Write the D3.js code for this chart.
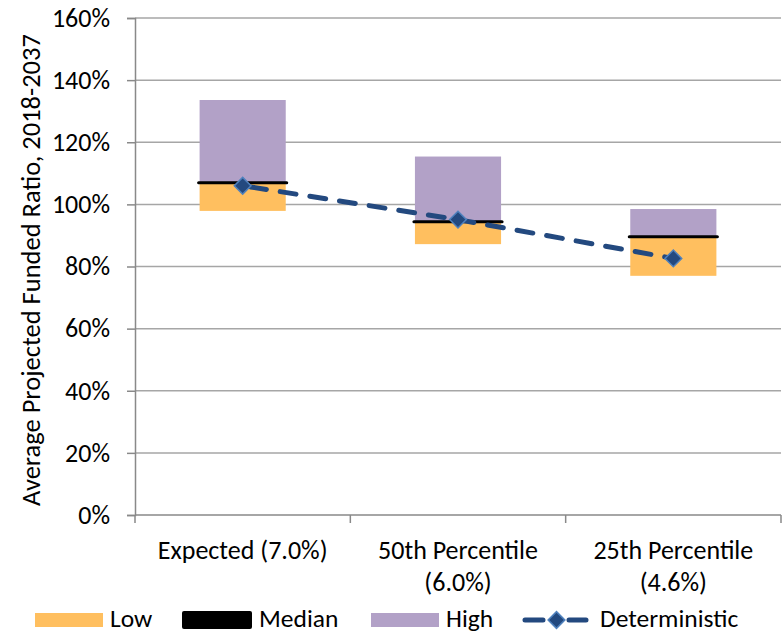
<!DOCTYPE html>
<html>
<head>
<meta charset="utf-8">
<script src="https://cdn.jsdelivr.net/npm/d3@7/dist/d3.min.js"></script>
<style>
  html, body { margin: 0; padding: 0; background: #fff; }
  svg { display: block; font-family: Carlito, Calibri, Lato, sans-serif; }
</style>
</head>
<body>
<svg id="chart" width="782" height="634"></svg>
<script>
// Scenario categories (two-line labels)
const categories = ["Expected (7.0%)", "50th Percentile (6.0%)", "25th Percentile (4.6%)"];
const categoryLines = [["Expected (7.0%)"], ["50th Percentile", "(6.0%)"], ["25th Percentile", "(4.6%)"]];

// Average projected funded ratio (%) per scenario
const lowValues = [97.9, 87.2, 77.0];
const medianValues = [107.0, 94.4, 89.6];
const highValues = [133.6, 115.4, 98.5];
const deterministicValues = [106.0, 95.1, 82.6];

const yTicks = [0, 20, 40, 60, 80, 100, 120, 140, 160];

const colors = {
  low: "#FFBF5F",
  median: "#000000",
  high: "#B2A1C7",
  det: "#23497F",
  detEdge: "#4F81BD",
  grid: "#A6A6A6",
  axis: "#898989"
};

const FS = 26;
const W = 782, H = 634;
const margin = { top: 18, right: 1, bottom: 119, left: 135 };
const iw = W - margin.left - margin.right;
const ih = H - margin.top - margin.bottom;

const svg = d3.select("#chart");
const g = svg.append("g").attr("transform", `translate(${margin.left},${margin.top})`);

const x = d3.scaleBand().domain(categories).range([0, iw]).paddingInner(0).paddingOuter(0);
const barW = x.bandwidth() * 0.4;
const cx = c => x(c) + x.bandwidth() / 2;
const y = d3.scaleLinear().domain([0, 160]).range([ih, 0]);

// Horizontal gridlines
g.append("g").selectAll("line").data(yTicks.filter(t => t > 0)).join("line")
  .attr("x1", 0).attr("x2", iw)
  .attr("y1", d => y(d)).attr("y2", d => y(d))
  .attr("stroke", colors.grid).attr("stroke-width", 1.5);

// Y axis
const yAxis = g.append("g").call(d3.axisLeft(y).tickValues(yTicks).tickFormat(d => d + "%").tickSize(8).tickPadding(17));
yAxis.select(".domain").attr("stroke", colors.axis).attr("stroke-width", 1.5);
yAxis.selectAll(".tick line").attr("stroke", colors.axis).attr("stroke-width", 1.5);
yAxis.selectAll(".tick text").attr("font-size", FS).attr("fill", "#000")
  .style("font-family", "Carlito, Calibri, Lato, sans-serif");

// X axis: ticks at band boundaries
const xg = g.append("g").attr("transform", `translate(0,${ih})`);
xg.append("line").attr("x1", 0).attr("x2", iw).attr("y1", 0).attr("y2", 0)
  .attr("stroke", colors.axis).attr("stroke-width", 1.5);
const boundaries = categories.map(c => x(c)).concat([x(categories[categories.length - 1]) + x.bandwidth()]);
xg.selectAll("line.tick").data(boundaries).join("line").attr("class", "tick")
  .attr("x1", d => d).attr("x2", d => d).attr("y1", 0).attr("y2", 8)
  .attr("stroke", colors.axis).attr("stroke-width", 1.5);
const xl = xg.selectAll("text.cat").data(categories).join("text").attr("class", "cat")
  .attr("text-anchor", "middle").attr("font-size", FS).attr("fill", "#000")
  .attr("transform", d => `translate(${cx(d)},44)`);
xl.each(function(d, i) {
  d3.select(this).selectAll("tspan").data(categoryLines[i]).join("tspan")
    .attr("x", 0).attr("dy", (t, j) => j === 0 ? 0 : 32).text(t => t);
});

// Low boxes (low -> median)
g.append("g").selectAll("rect").data(categories).join("rect")
  .attr("x", d => cx(d) - barW / 2).attr("width", barW)
  .attr("y", (d, i) => y(medianValues[i]))
  .attr("height", (d, i) => y(lowValues[i]) - y(medianValues[i]))
  .attr("fill", colors.low);

// High boxes (median -> high)
g.append("g").selectAll("rect").data(categories).join("rect")
  .attr("x", d => cx(d) - barW / 2).attr("width", barW)
  .attr("y", (d, i) => y(highValues[i]))
  .attr("height", (d, i) => y(medianValues[i]) - y(highValues[i]))
  .attr("fill", colors.high);

// Median marks
g.append("g").selectAll("line").data(categories).join("line")
  .attr("x1", d => cx(d) - barW / 2 - 1).attr("x2", d => cx(d) + barW / 2 + 1)
  .attr("y1", (d, i) => y(medianValues[i])).attr("y2", (d, i) => y(medianValues[i]))
  .attr("stroke", colors.median).attr("stroke-width", 3).attr("stroke-linecap", "round");

// Deterministic dashed line with diamond markers
const line = d3.line().x(d => cx(d.c)).y(d => y(d.v));
const detData = categories.map((c, i) => ({ c, v: deterministicValues[i] }));
g.append("path").datum(detData).attr("d", line)
  .attr("fill", "none").attr("stroke", colors.det).attr("stroke-width", 5)
  .attr("stroke-dasharray", "16,14").attr("stroke-dashoffset", -8).attr("stroke-linecap", "round");
g.append("g").selectAll("path").data(detData).join("path")
  .attr("transform", d => `translate(${cx(d.c)},${y(d.v)}) rotate(45)`)
  .attr("d", d3.symbol().type(d3.symbolSquare).size(140))
  .attr("fill", colors.det).attr("stroke", colors.detEdge).attr("stroke-width", 1.5);

// Y axis title
svg.append("text")
  .attr("transform", `translate(40,270) rotate(-90)`)
  .attr("text-anchor", "middle").attr("font-size", 26.5).attr("fill", "#000")
  .text("Average Projected Funded Ratio, 2018-2037");

// Legend
const leg = svg.append("g").attr("font-size", 25.5);
const ly = 620;
const lb = 627;
leg.append("rect").attr("x", 35).attr("y", ly - 7).attr("width", 68).attr("height", 14).attr("fill", colors.low);
leg.append("text").attr("x", 110).attr("y", lb).text("Low");
leg.append("rect").attr("x", 182).attr("y", ly - 9).attr("width", 70).attr("height", 18).attr("rx", 2).attr("fill", colors.median);
leg.append("text").attr("x", 259).attr("y", lb).text("Median");
leg.append("rect").attr("x", 371).attr("y", ly - 7).attr("width", 68).attr("height", 14).attr("fill", colors.high);
leg.append("text").attr("x", 446).attr("y", lb).text("High");
leg.append("line").attr("x1", 525).attr("x2", 586).attr("y1", ly).attr("y2", ly)
  .attr("stroke", colors.det).attr("stroke-width", 5).attr("stroke-linecap", "round")
  .attr("stroke-dasharray", "18,26");
leg.append("path").attr("transform", `translate(556.5,${ly}) rotate(45)`)
  .attr("d", d3.symbol().type(d3.symbolSquare).size(140))
  .attr("fill", colors.det).attr("stroke", colors.detEdge).attr("stroke-width", 1.5);
leg.append("text").attr("x", 600).attr("y", lb).text("Deterministic");
</script>
</body>
</html>
